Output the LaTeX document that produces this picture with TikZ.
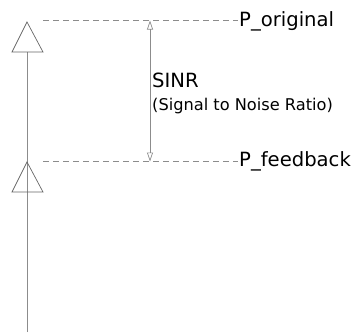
\documentclass[tikz,border=0pt]{standalone}
\usepackage{fontspec}
\setmainfont{DejaVu Sans}
\usetikzlibrary{arrows.meta}
\begin{document}
\begin{tikzpicture}[x=1pt,y=-1pt,
  plainline/.style={draw=black!45, line width=0.7pt},
  dashline/.style={draw=black!45, line width=0.7pt, dash pattern=on 6pt off 4pt},
  tri/.style={draw=black!60, line width=0.7pt},
  lbl/.style={font=\fontsize{19.6}{22}\selectfont, inner sep=0pt, anchor=base west},
  sublbl/.style={font=\fontsize{16.2}{19}\selectfont, inner sep=0pt, anchor=base west}]
\useasboundingbox (0,0) rectangle (361,332);
% coordinates
\coordinate (top) at (43,20.5);
\coordinate (topend) at (238,20.5);
\coordinate (bot) at (43,161.5);
\coordinate (botend) at (238,161.5);
\coordinate (atop) at (150,20.5);
\coordinate (abot) at (150,161.5);
\coordinate (vtop) at (27,52);
\coordinate (vbot) at (27,332);
% dashed lines
\draw[dashline] (top) -- (topend);
\draw[dashline] (bot) -- (botend);
% vertical line
\draw[plainline] (vbot) -- (vtop);
% triangles
\draw[tri] (27,22) -- (43,52) -- (12,52) -- cycle;
\draw[tri] (27,162) -- (43,192) -- (12,192) -- cycle;
% SINR arrow
\draw[plainline, {Triangle[open,length=9pt,width=6pt]}-{Triangle[open,length=9pt,width=6pt]}] (atop) -- (abot);
% labels
\node[lbl] (po) at (239,27) {P\_original};
\node[lbl] (pf) at (239,166) {P\_feedback};
\node[lbl] (sinr) at (152,87) {SINR};
\node[sublbl] (snr) at (152,110) {(Signal to Noise Ratio)};
\end{tikzpicture}
\end{document}
